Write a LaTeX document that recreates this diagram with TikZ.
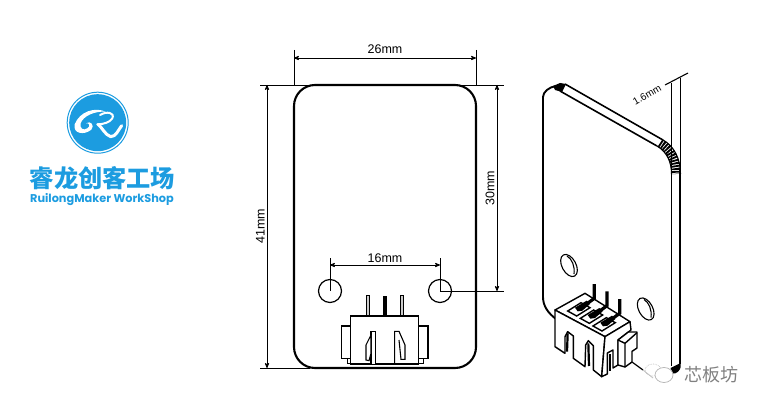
\documentclass[tikz,border=0pt]{standalone}
\usepackage{fontspec}
\setmainfont{Liberation Sans}
\newfontfamily\cjk{Noto Sans CJK SC}
\newfontfamily\logofont{Poppins}
\usetikzlibrary{arrows}
\definecolor{logoblue}{HTML}{1C9CE0}
\definecolor{markgray}{HTML}{808080}
\tikzset{
outline/.style={draw,line width=2.1pt}, % Board edge in the front view
thinpart/.style={draw,line width=1.1pt,fill=white}, % Connector parts
isopart/.style={draw,line width=1.4pt,line join=round,fill=white},
dim/.style={draw,line width=.8pt,<->,>=stealth'}, % Dimension lines with tips
ext/.style={draw,line width=.8pt}, % Extension lines
dimtext/.style={font=\fontsize{12.5}{14}\selectfont,inner sep=0pt},
hole/.style={circle,draw,line width=1.2pt,minimum size=23pt,inner sep=0pt},
logoline/.style={draw=white,line cap=round,line join=round}}

\begin{document}
\begin{tikzpicture}[x=1pt,y=-1pt]
    \useasboundingbox (0,0) rectangle (762,409);
    
    % logo
    \node[circle,draw=logoblue,line width=1pt,minimum size=61pt,inner sep=0pt] (ring) at (97.7,122.7) {};
    \node[circle,fill=logoblue,minimum size=57pt,inner sep=0pt] (disc) at (97.7,122.7) {};
    \begin{scope}[shift={(60,85)},scale=1/3]
        \fill[white] (137,80) .. controls (105,66) and (60,78) .. (44,118) .. controls (38,146) and (72,152) .. (94,134)
            .. controls (105,122) and (92,105) .. (78,115) .. controls (88,112) and (92,124) .. (82,130)
            .. controls (70,138) and (58,130) .. (62,115) .. controls (70,92) and (105,78) .. (137,80) -- cycle;
        \draw[logoline,line width=2pt] (120,90) .. controls (140,78) and (165,82) .. (157,100)
            .. controls (150,112) and (130,118) .. (112,118);
        \draw[logoline,line width=3pt] (114,118) .. controls (125,125) and (135,150) .. (152,155)
            .. controls (168,155) and (175,135) .. (185,122);
    \end{scope}
    \node[text=logoblue,inner sep=0pt,font=\cjk\bfseries\fontsize{24.2}{26}\selectfont] (name) at (102.5,178) {睿龙创客工场};
    \node[text=logoblue,inner sep=0pt,font=\logofont\bfseries\fontsize{11.3}{12}\selectfont] (eng) at (102,200) {RuilongMaker WorkShop};
    
    % front view
    \coordinate (tl) at (294,85);
    \coordinate (tr) at (476,85);
    \coordinate (bl) at (294,368);
    \coordinate (br) at (476,368);
    \draw[outline,rounded corners=21pt] (tl) rectangle (br);
    \node[hole] (h1) at (330,291) {};
    \node[hole] (h2) at (440,291) {};
    
    % dimensions
    \coordinate (w1) at (294,50);
    \coordinate (w2) at (476,50);
    \coordinate (e1) at (260,85);
    \coordinate (e2) at (504,85);
    \coordinate (e3) at (260,368);
    \coordinate (e4) at (310,368);
    \coordinate (e5) at (504,291);
    \coordinate (s1) at (330,258);
    \coordinate (s2) at (440,258);
    \path[ext] (w1) -- (tl);
    \path[ext] (w2) -- (tr);
    \path[ext] (e1) -- (e2);
    \path[ext] (e3) -- (e4);
    \path[ext] (h2.center) -- (e5);
    \path[ext] (s1) -- (h1.center);
    \path[ext] (s2) -- (h2.center);
    \path[dim] (294,58) -- node[above=4pt,dimtext] (t26) {26mm} (476,58);
    \path[dim] (267,85) -- node[dimtext,rotate=90,anchor=south,yshift=2pt] (t41) {41mm} (267,368);
    \path[dim] (497,85) -- node[dimtext,rotate=90,anchor=south,yshift=2pt] (t30) {30mm} (497,291);
    \path[dim] (330,265) -- node[above=1.5pt,dimtext] (t16) {16mm} (440,265);
    
    % connector, front view
    \begin{scope}[shift={(335,290)},scale=1/3]
        \draw[line width=1.2pt,fill=gray!40] (95,17) rectangle (103,78);
        \fill (145,17) rectangle (157,78);
        \draw[line width=1.2pt,fill=gray!40] (197,17) rectangle (205,78);
        \draw[thinpart] (20,108) rectangle (47,205);
        \draw[thinpart] (250,108) rectangle (279,205);
        \draw[thinpart] (38,205) rectangle (47,220);
        \draw[thinpart] (250,205) rectangle (265,220);
        \draw[thinpart] (47,78) rectangle (250,222);
        \draw[thinpart] (108,222) -- (108,124) -- (121,124) -- (121,222);
        \draw[thinpart] (108,135) -- (93,165) -- (93,210) -- (102,212) -- (108,190) -- cycle;
        \draw[thinpart] (179,222) -- (179,124) -- (192,124) -- (210,165) -- (210,208) -- (198,208) -- (192,150);
    \end{scope}
    
    % side view
    \draw[line width=1.9pt] (543,297) -- (543,97) .. controls (543,92) and (549,87) .. (556,86);
    \fill (553,86) -- (560,83) -- (566,84) -- (562,92) -- (555,90) -- cycle;
    \draw[line width=1.6pt] (565,84) -- (663,140);
    \draw[line width=1.6pt] (560,91) -- (657,146);
    \draw[line width=9pt,dash pattern=on 1.8pt off 1pt] (660,143) .. controls (670.5,149) and (676,159.5) .. (676,174);
    \draw[line width=1.1pt] (663,140) .. controls (674,146) and (680.5,159) .. (680.5,174);
    \draw[line width=1.1pt] (657,146) .. controls (667,152) and (671.5,162) .. (671.5,174);
    \draw[line width=1.4pt] (671.5,172) -- (671.5,366);
    \draw[line width=1.4pt] (680,168) -- (680,364);
    \fill (670.5,368) -- (680.7,363) -- (680.7,367) .. controls (680,371) and (676,374) .. (673,373.5) -- cycle;
    \draw[line width=1.9pt] (543,297) .. controls (543,306) and (548,313) .. (556,319);
    \draw[line width=1.2pt] (632,362) -- (643,370);
    \draw[line width=.8pt,gray!50] (643,370) -- (653,378);
    
    % side view holes
    \draw[line width=1.1pt] (569,265.5) ellipse[x radius=7pt,y radius=12pt,rotate=28];
    \draw[line width=1.1pt] (567,256) .. controls (572,259) and (575,266) .. (574,274);
    \draw[line width=1.1pt] (645.7,309) ellipse[x radius=7pt,y radius=12pt,rotate=28];
    \draw[line width=1.1pt] (644,299.5) .. controls (649,302.5) and (652,309.5) .. (651,317.5);
    
    % side view dimension
    \coordinate (d1) at (671.5,83);
    \coordinate (d2) at (680,78);
    \coordinate (d3) at (665,85);
    \coordinate (d4) at (688,73);
    \draw[line width=.8pt] (d1) -- (671.5,172);
    \draw[line width=.8pt] (d2) -- (680,170);
    \draw[line width=1.1pt] (d3) -- (d4);
    \node[dimtext,rotate=30,font=\fontsize{10}{12}\selectfont] (t16b) at (647,95) {1.6mm};
    
    % connector, side view
    \begin{scope}[shift={(545,280)},scale=1/3]
        \draw[isopart] (30,90) -- (120,40) -- (255,125) -- (180,170) -- cycle;
        \draw[isopart] (30,90) -- (30,200) -- (60,220) -- (60,170) -- (68,155) -- (85,168) -- (85,235)
            -- (120,260) -- (122,195) -- (130,182) -- (145,197) -- (145,270) -- (170,290) -- (180,170) -- cycle;
        \draw[isopart] (180,170) -- (255,125) -- (258,150) -- (219,180) -- (219,255) -- (204,264)
            -- (204,210) -- (187,219) -- (187,282) -- (170,290) -- cycle;
        \draw[isopart] (219,180) -- (250,156) -- (276,156) -- (276,204) -- (261,214) -- (261,246) -- (240,261) -- (219,255) -- cycle;
        \draw[line width=1.4pt] (219,180) -- (240,190) -- (240,261);
        \draw[line width=1.4pt] (240,190) -- (276,158);
        \draw[line width=2.2pt] (68,160) -- (66,215);
        \draw[line width=2.2pt] (130,190) -- (132,258);
        \draw[line width=2.2pt] (194,222) -- (194,272);
        % slots on top
        \foreach \sx/\sy in {0/0,38/22,76/45}{
            \draw[line width=1.4pt,fill=white,shift={(\sx,\sy)}] (68,93) -- (108,68) -- (135,83) -- (95,108) -- cycle;
            \fill[shift={(\sx,\sy)}] (90,83) -- (125,62) -- (135,72) -- (112,92) -- (98,94) -- cycle;
            \draw[line width=3.2pt,shift={(\sx,\sy)}] (125,72) -- (148,55) -- (148,12);
        }
    \end{scope}
    
    % watermark
    \draw[gray!50,line width=.7pt,densely dotted] (653,370) ellipse[x radius=8pt,y radius=6pt];
    \draw[gray!60,line width=.7pt,fill=white] (664,375) ellipse[x radius=9pt,y radius=7.5pt];
    \node[text=markgray,inner sep=0pt,font=\cjk\fontsize{18}{20}\selectfont] (mark) at (711,375) {芯板坊};
    
\end{tikzpicture}
\end{document}
